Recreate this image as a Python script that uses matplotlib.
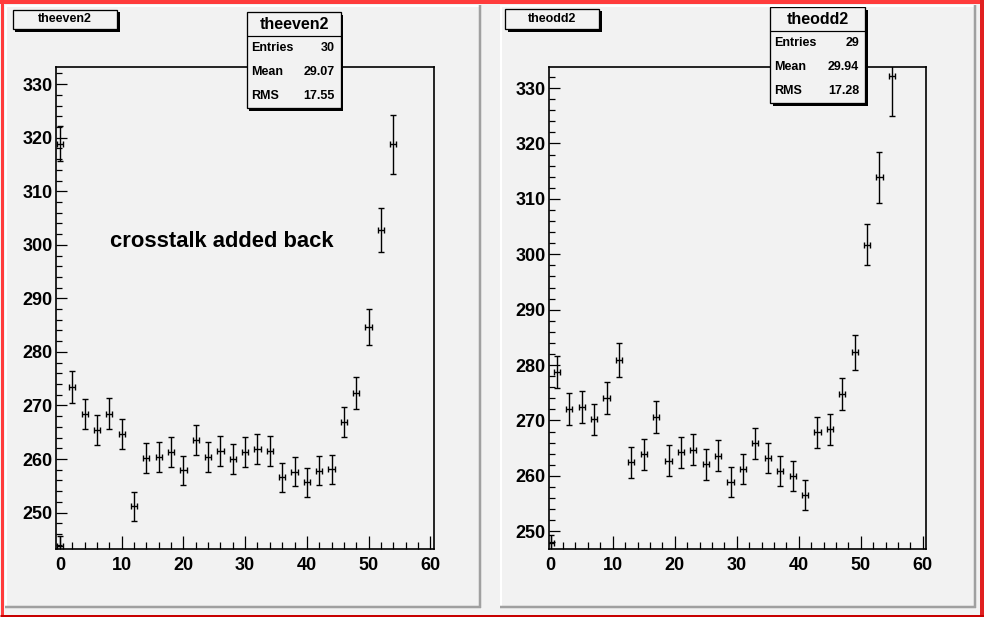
import matplotlib
matplotlib.use("Agg")
import matplotlib.pyplot as plt
from matplotlib.patches import Rectangle
from matplotlib.lines import Line2D
from matplotlib.ticker import MultipleLocator

# theeven2: bin centre, content, error
even_x = [0, 0, 2, 4, 6, 8, 10, 12, 14, 16, 18, 20, 22, 24, 26, 28,
          30, 32, 34, 36, 38, 40, 42, 44, 46, 48, 50, 52, 54]
even_y = [318.9, 243.7, 273.4, 268.4, 265.4, 268.5, 264.6, 251.2, 260.2, 260.4,
          261.3, 257.9, 263.5, 260.4, 261.5, 260.0, 261.3, 261.8, 261.5, 256.6,
          257.6, 255.7, 257.8, 258.1, 266.9, 272.3, 284.6, 302.8, 318.8]
even_err = [3.3, 2.0, 3.0, 2.8, 2.8, 2.9, 2.8, 2.7, 2.8, 2.8,
            2.8, 2.7, 2.8, 2.8, 2.8, 2.8, 2.8, 2.8, 2.8, 2.7,
            2.7, 2.7, 2.7, 2.7, 2.75, 3.0, 3.35, 4.1, 5.5]

# theodd2
odd_x = [0, 1, 3, 5, 7, 9, 11, 13, 15, 17, 19, 21, 23, 25, 27, 29,
         31, 33, 35, 37, 39, 41, 43, 45, 47, 49, 51, 53, 55]
odd_y = [247.9, 278.8, 272.1, 272.4, 270.2, 274.0, 280.9, 262.5, 263.9, 270.6,
         262.7, 264.3, 264.7, 262.1, 263.6, 258.9, 261.2, 265.9, 263.2, 260.9,
         260.0, 256.6, 267.9, 268.4, 274.8, 282.3, 301.7, 313.9, 332.2]
odd_err = [1.4, 2.85, 2.85, 2.9, 2.85, 2.9, 3.05, 2.8, 2.8, 2.85,
           2.8, 2.8, 2.8, 2.8, 2.8, 2.7, 2.75, 2.8, 2.75, 2.75,
           2.75, 2.7, 2.8, 2.8, 2.95, 3.2, 3.7, 4.6, 7.2]

even_stats = [("Entries", "30"), ("Mean", "29.07"), ("RMS", "17.55")]
odd_stats = [("Entries", "29"), ("Mean", "29.94"), ("RMS", "17.28")]

W, H = 984, 617
BG = "#f2f2f2"
plt.rcParams["font.family"] = ["Liberation Sans", "DejaVu Sans"]
plt.rcParams["font.weight"] = "bold"

fig = plt.figure(figsize=(W / 100, H / 100), dpi=100, facecolor=BG)


def fx(x):
    return x / W


def fy(y):
    return 1 - y / H


def hline(x0, x1, y, color, lw):
    fig.add_artist(Line2D([fx(x0), fx(x1)], [fy(y), fy(y)], color=color,
                          lw=lw * 0.72, transform=fig.transFigure, solid_capstyle="butt"))


def vline(x, y0, y1, color, lw):
    fig.add_artist(Line2D([fx(x), fx(x)], [fy(y0), fy(y1)], color=color,
                          lw=lw * 0.72, transform=fig.transFigure, solid_capstyle="butt"))


def box(x0, y0, x1, y1, lw=1.3, shadow=2.5):
    # ROOT style box with drop shadow
    fig.add_artist(Rectangle((fx(x0 + shadow), fy(y1 + shadow)), fx(x1 - x0), (y1 - y0) / H,
                             transform=fig.transFigure, facecolor="black", edgecolor="black", lw=0))
    fig.add_artist(Rectangle((fx(x0), fy(y1)), fx(x1 - x0), (y1 - y0) / H,
                             transform=fig.transFigure, facecolor=BG, edgecolor="black", lw=lw * 0.72))


def pad(ax_px, xlim, ylim, x, y, err, name, title_box, stats_box, stats):
    l, t, r, b = ax_px
    ax = fig.add_axes([fx(l), fy(b), fx(r - l), (b - t) / H])
    ax.set_facecolor(BG)
    ax.errorbar(x, y, yerr=err, xerr=0.5, fmt="none", ecolor="black",
                elinewidth=1.0, capsize=2.2, capthick=1.0)
    ax.set_xlim(*xlim)
    ax.set_ylim(*ylim)
    ax.xaxis.set_major_locator(MultipleLocator(10))
    ax.xaxis.set_minor_locator(MultipleLocator(2))
    ax.yaxis.set_major_locator(MultipleLocator(10))
    ax.yaxis.set_minor_locator(MultipleLocator(2))
    ax.tick_params(which="both", direction="in", top=False, right=False, width=0.9)
    ax.tick_params(axis="x", which="major", length=9.7, pad=6, labelsize=13)
    ax.tick_params(axis="x", which="minor", length=5.0)
    ax.tick_params(axis="y", which="major", length=7.9, pad=2.5, labelsize=13)
    ax.tick_params(axis="y", which="minor", length=4.0)
    for s in ax.spines.values():
        s.set_linewidth(1.2)
    for lab in ax.get_xticklabels() + ax.get_yticklabels():
        lab.set_fontweight("bold")

    # title box
    x0, y0, x1, y1 = title_box
    box(x0, y0, x1, y1, shadow=2.5)
    fig.text(fx((x0 + x1) / 2), fy((y0 + y1) / 2), name, ha="center", va="center",
             fontsize=9, fontweight="bold")

    # stats box
    x0, y0, x1, y1 = stats_box
    box(x0, y0, x1, y1, shadow=2.5)
    sep = y0 + (y1 - y0) * 0.255
    hline(x0, x1, sep, "black", 1.2)
    fig.text(fx((x0 + x1) / 2), fy((y0 + sep) / 2), name, ha="center", va="center",
             fontsize=11.5, fontweight="bold")
    row_h = (y1 - sep) / 3
    for i, (k, v) in enumerate(stats):
        yy = sep + row_h * (i + 0.5)
        fig.text(fx(x0 + 4.5), fy(yy), k, ha="left", va="center", fontsize=9, fontweight="bold")
        fig.text(fx(x1 - 6), fy(yy), v, ha="right", va="center", fontsize=9, fontweight="bold")
    return ax


# pad frames (3D borders)
for px0, px1 in [(5, 481), (500, 976)]:
    hline(px0, px1, 6, "white", 2)
    vline(px0 + 1, 5, 607, "white", 2)
    hline(px0, px1, 606.5, "#a0a0a0", 2.5)
    vline(px1 - 1, 5, 608, "#a0a0a0", 2.5)

ax1 = pad((56, 67, 434, 549), (-0.65, 60.6), (243.2, 333.2), even_x, even_y, even_err,
          "theeven2", (13, 10, 117, 29), (247, 12, 341, 108), even_stats)
ax1.text(8.1, 300.6, "crosstalk added back", ha="left", va="center",
         fontsize=15.8, fontweight="bold")

ax2 = pad((549, 67, 926, 549), (-0.27, 60.5), (246.8, 333.8), odd_x, odd_y, odd_err,
          "theodd2", (505, 9, 599, 29), (770, 7, 865, 103), odd_stats)

# red canvas border
hline(0, W, 2, "#ff3c3c", 4)
vline(1.5, 0, H, "#ff3c3c", 3)
vline(W - 2, 0, H, "#e02020", 4)
hline(0, W, H - 1.5, "#c80000", 3)

fig.savefig("out.png", dpi=100, facecolor=BG)
